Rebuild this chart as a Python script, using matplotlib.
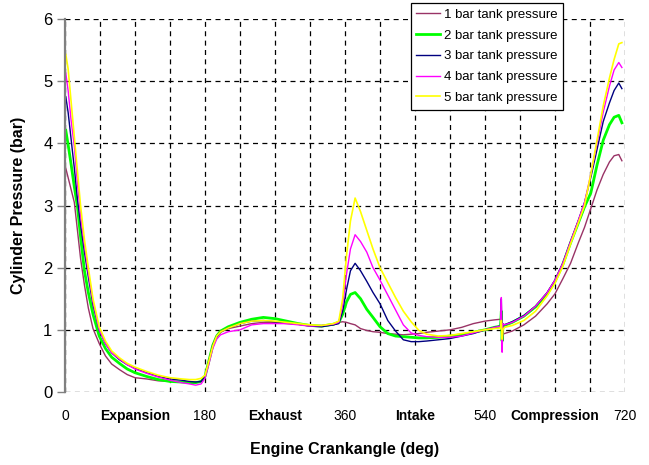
import matplotlib
matplotlib.use("Agg")
import matplotlib.pyplot as plt
import numpy as np

plt.rcParams['font.family'] = ['Liberation Sans', 'DejaVu Sans']

# Crank angle (deg) at which the cylinder pressure was sampled
angle = [1, 4, 8, 12, 16, 20, 25, 30, 36, 44, 52, 60, 70, 80, 90, 105, 120, 135,
         150, 160, 168, 175, 180, 185, 190, 195, 200, 210, 225, 240, 255, 270,
         285, 300, 315, 330, 345, 352, 357, 362, 367, 373, 380, 388, 396, 405,
         415, 425, 435, 445, 455, 465, 480, 495, 510, 525, 540, 552, 560, 561,
         562, 563, 565, 575, 590, 605, 620, 630, 640, 650, 660, 668, 676, 684,
         692, 700, 706, 712, 716]

p1bar = [3.60, 3.45, 3.25, 3.05, 2.60, 2.15, 1.72, 1.35, 1.02, 0.78, 0.58, 0.45,
         0.36, 0.28, 0.23, 0.21, 0.18, 0.17, 0.16, 0.16, 0.16, 0.17, 0.24, 0.50,
         0.73, 0.88, 0.96, 1.02, 1.06, 1.10, 1.12, 1.12, 1.10, 1.09, 1.07, 1.06,
         1.08, 1.12, 1.13, 1.12, 1.10, 1.08, 1.02, 0.99, 0.97, 0.96, 0.94, 0.93,
         0.92, 0.93, 0.94, 0.96, 0.98, 1.00, 1.04, 1.10, 1.14, 1.16, 1.17, 1.17,
         0.92, 0.93, 0.94, 0.98, 1.08, 1.22, 1.42, 1.58, 1.82, 2.07, 2.40, 2.65,
         2.95, 3.25, 3.50, 3.70, 3.80, 3.82, 3.72]

p2bar = [4.21, 3.98, 3.65, 3.30, 2.98, 2.50, 1.95, 1.60, 1.25, 0.90, 0.70, 0.56,
         0.46, 0.37, 0.31, 0.25, 0.20, 0.17, 0.16, 0.15, 0.15, 0.17, 0.25, 0.50,
         0.75, 0.90, 0.98, 1.05, 1.12, 1.17, 1.20, 1.18, 1.14, 1.10, 1.07, 1.06,
         1.09, 1.12, 1.25, 1.45, 1.57, 1.60, 1.50, 1.33, 1.20, 1.05, 0.94, 0.90,
         0.89, 0.88, 0.87, 0.87, 0.88, 0.90, 0.92, 0.96, 1.00, 1.04, 1.06, 1.30,
         0.82, 1.06, 1.07, 1.12, 1.22, 1.37, 1.58, 1.78, 2.05, 2.40, 2.72, 2.98,
         3.20, 3.65, 4.05, 4.30, 4.42, 4.45, 4.33]

p3bar = [4.75, 4.50, 4.05, 3.60, 3.10, 2.70, 2.25, 1.85, 1.40, 1.00, 0.78, 0.63,
         0.52, 0.44, 0.38, 0.31, 0.25, 0.21, 0.19, 0.17, 0.16, 0.17, 0.25, 0.50,
         0.75, 0.90, 0.97, 1.03, 1.10, 1.14, 1.15, 1.13, 1.11, 1.09, 1.06, 1.05,
         1.08, 1.10, 1.30, 1.65, 1.95, 2.07, 1.95, 1.78, 1.60, 1.42, 1.15, 0.98,
         0.84, 0.81, 0.81, 0.82, 0.84, 0.86, 0.90, 0.94, 1.00, 1.04, 1.06, 1.50,
         0.68, 1.10, 1.08, 1.13, 1.23, 1.38, 1.60, 1.80, 2.07, 2.42, 2.76, 3.05,
         3.45, 3.90, 4.35, 4.65, 4.85, 4.97, 4.88]

p4bar = [5.13, 4.85, 4.35, 3.95, 3.35, 2.85, 2.35, 1.92, 1.45, 1.00, 0.78, 0.63,
         0.53, 0.44, 0.37, 0.30, 0.24, 0.19, 0.15, 0.13, 0.11, 0.13, 0.22, 0.45,
         0.70, 0.85, 0.92, 0.97, 1.00, 1.08, 1.10, 1.10, 1.10, 1.08, 1.06, 1.07,
         1.09, 1.12, 1.40, 1.90, 2.30, 2.53, 2.42, 2.25, 2.00, 1.80, 1.56, 1.32,
         1.08, 0.95, 0.91, 0.89, 0.88, 0.88, 0.90, 0.95, 1.00, 1.04, 1.06, 1.52,
         0.64, 1.10, 1.08, 1.12, 1.22, 1.38, 1.60, 1.80, 2.07, 2.42, 2.76, 3.05,
         3.50, 4.00, 4.50, 4.92, 5.18, 5.30, 5.22]

p5bar = [5.43, 5.20, 4.65, 4.10, 3.55, 3.00, 2.45, 2.00, 1.50, 1.05, 0.82, 0.66,
         0.55, 0.46, 0.40, 0.33, 0.27, 0.23, 0.21, 0.20, 0.20, 0.22, 0.27, 0.50,
         0.74, 0.90, 0.97, 1.03, 1.10, 1.14, 1.15, 1.14, 1.12, 1.10, 1.08, 1.07,
         1.10, 1.14, 1.50, 2.20, 2.75, 3.12, 2.90, 2.60, 2.30, 2.00, 1.76, 1.52,
         1.30, 1.13, 0.99, 0.93, 0.90, 0.91, 0.94, 0.97, 1.00, 1.02, 1.03, 1.15,
         0.85, 1.00, 1.04, 1.07, 1.15, 1.30, 1.55, 1.75, 2.02, 2.38, 2.72, 3.00,
         3.50, 4.05, 4.60, 5.05, 5.35, 5.60, 5.62]

series_labels = ["1 bar tank pressure", "2 bar tank pressure", "3 bar tank pressure",
                 "4 bar tank pressure", "5 bar tank pressure"]
series_colors = ["#993366", "#00FF00", "#000080", "#FF00FF", "#FFFF00"]
series_widths = [1.0, 2.0, 1.0, 1.0, 1.2]

x_tick_pos = [0, 90, 180, 270, 360, 450, 540, 630, 720]
x_tick_labels = ["0", "Expansion", "180", "Exhaust", "360", "Intake", "540",
                 "Compression", "720"]
y_ticks = [0, 1, 2, 3, 4, 5, 6]

fig = plt.figure(figsize=(6.49, 4.65), dpi=100)
ax = fig.add_axes([65 / 649, 1 - 392 / 465, 560 / 649, 373 / 465])

for vals, lab, col, lw in zip([p1bar, p2bar, p3bar, p4bar, p5bar],
                              series_labels, series_colors, series_widths):
    ax.plot(angle, vals, color=col, lw=lw, label=lab)

ax.set_xlim(0, 720)
ax.set_ylim(0, 6)

# grid: dashed lines every 45 deg and every bar
ax.set_xticks(np.arange(0, 721, 45), minor=True)
ax.set_xticks(x_tick_pos)
ax.set_xticklabels(x_tick_labels)
ax.set_yticks(y_ticks)
ax.grid(True, which='both', axis='x', color='black', ls=(0, (4, 3.5)), lw=0.9)
ax.grid(True, which='major', axis='y', color='black', ls=(0, (4, 3.5)), lw=0.9)
ax.set_axisbelow(True)

for s in ['top', 'right', 'bottom']:
    ax.spines[s].set_visible(False)
ax.spines['left'].set_color('#808080')
ax.spines['left'].set_linewidth(1.6)

ax.tick_params(axis='x', which='both', length=0, pad=12, labelsize=10)
ax.tick_params(axis='y', which='major', length=6, width=1, color='#808080',
               direction='out', labelsize=12, pad=3)
for t in ax.get_xticklabels():
    if not t.get_text().isdigit():
        t.set_fontweight('bold')
        t.set_fontsize(10)

ax.set_xlabel("Engine Crankangle (deg)", fontsize=11.5, fontweight='bold', labelpad=14)
ax.set_ylabel("Cylinder Pressure (bar)", fontsize=11.5, fontweight='bold', labelpad=12)

leg = ax.legend(loc='upper right', bbox_to_anchor=(563 / 649, 1 - 3 / 465),
                bbox_transform=fig.transFigure, fontsize=9.5, frameon=True,
                fancybox=False, framealpha=1, edgecolor='black',
                handlelength=1.8, handletextpad=0.3, labelspacing=0.65,
                borderpad=0.42, borderaxespad=0)
leg.get_frame().set_linewidth(0.9)

fig.savefig("out.png", dpi=100)
